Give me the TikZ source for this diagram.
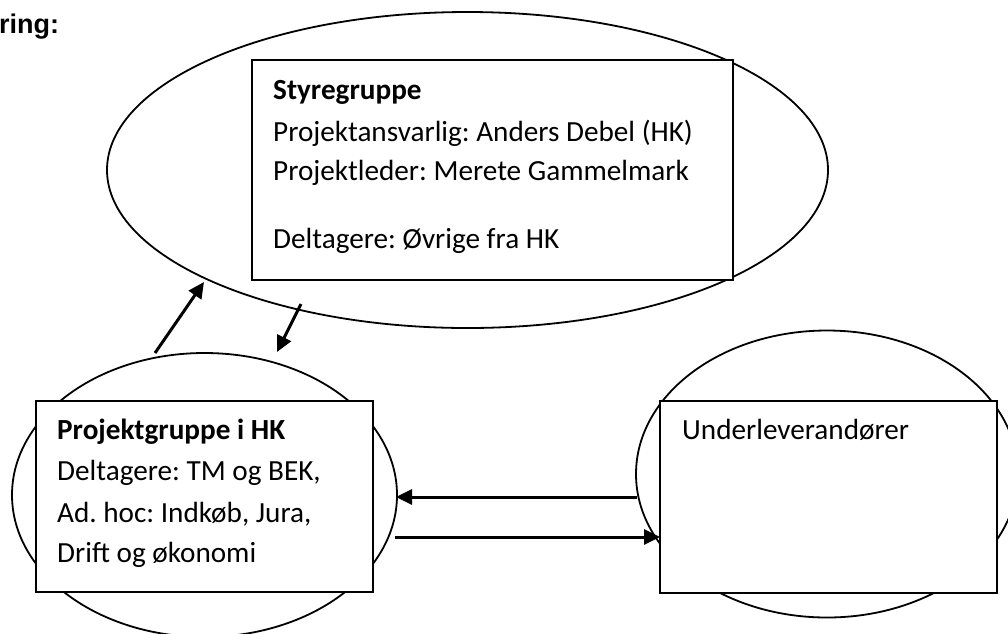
\documentclass[tikz,border=0pt]{standalone}
\usepackage{fontspec}
\setmainfont{Carlito}
\newfontfamily\headfont{Liberation Sans}
\usetikzlibrary{shapes.geometric,arrows.meta}
\frenchspacing
\tikzset{
  oval/.style={ellipse, draw, line width=1.8pt, inner sep=0pt},
  box/.style={rectangle, draw, fill=white, line width=2pt, inner sep=0pt},
  txt/.style={anchor=base west, inner sep=0pt, font=\fontsize{29.2}{35}\selectfont},
  conn/.style={line width=3pt, -{Triangle[length=16pt,width=15pt]}}
}
\begin{document}
\begin{tikzpicture}[x=1pt,y=-1pt]
\useasboundingbox (0,0) rectangle (1008,633);
% ellipses
\node[oval, minimum width=721pt, minimum height=316pt] (E1) at (467.5,170) {};
\node[oval, minimum width=385pt, minimum height=284pt] (E2) at (204.5,495) {};
\node[oval, minimum width=382pt, minimum height=287pt] (E3) at (827,474) {};
% boxes
\node[box, minimum width=481pt, minimum height=220pt] (B1) at (492.5,170) {};
\node[box, minimum width=337pt, minimum height=191pt] (B2) at (204.5,496.5) {};
\node[box, minimum width=337pt, minimum height=192pt] (B3) at (828.5,497) {};
% heading
\node[anchor=base west, inner sep=0pt, font=\headfont\bfseries\fontsize{27}{30}\selectfont] (H) at (-1,33) {ring:};
% texts top
\node[txt, font=\bfseries\fontsize{29.2}{35}\selectfont] (t1) at (273,99) {Styregruppe};
\node[txt] (t2) at (273,141) {Projektansvarlig: Anders Debel (HK)};
\node[txt] (t3) at (273,180) {Projektleder: Merete Gammelmark};
\node[txt] (t4) at (273,248) {Deltagere: Øvrige fra HK};
% texts left
\node[txt, font=\bfseries\fontsize{29.2}{35}\selectfont] (l1) at (57,439) {Projektgruppe i HK};
\node[txt] (l2) at (57,480) {Deltagere: TM og BEK,};
\node[txt] (l3) at (57,522) {Ad. hoc: Indkøb, Jura,};
\node[txt] (l4) at (57,562) {Drift og økonomi};
% text right
\node[txt] (r1) at (682,439) {Underleverandører};
% connector end points
\coordinate (a1s) at (155,353);
\coordinate (a1e) at (204,282);
\coordinate (a2s) at (301,304);
\coordinate (a2e) at (277,352);
\coordinate (a3s) at (637,497);
\coordinate (a3e) at (396,497);
\coordinate (a4s) at (395,537);
\coordinate (a4e) at (660,537);
\draw[conn] (a1s) -- (a1e);
\draw[conn] (a2s) -- (a2e);
\draw[conn] (a3s) -- (a3e);
\draw[conn] (a4s) -- (a4e);
\end{tikzpicture}
\end{document}
